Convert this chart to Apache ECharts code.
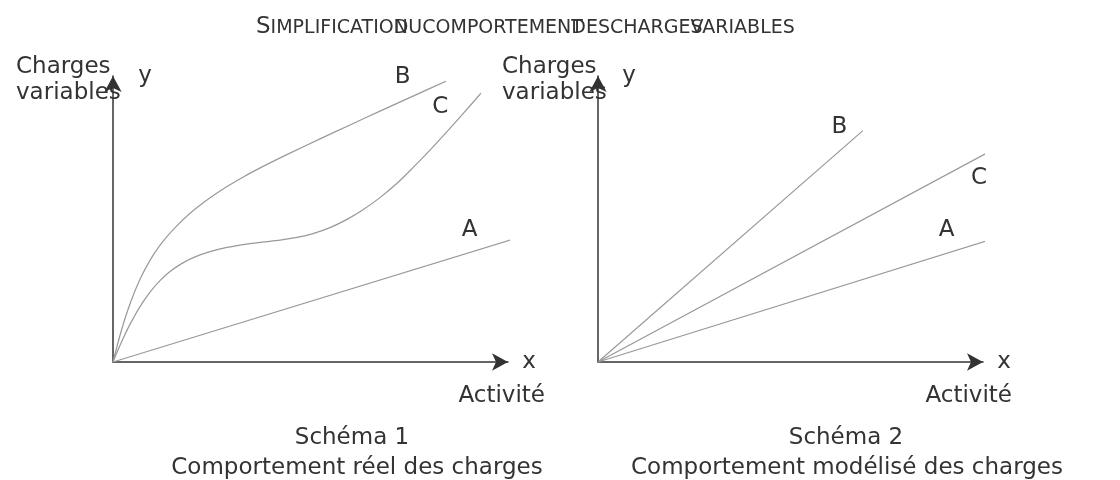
<!DOCTYPE html>
<html>
<head>
<meta charset="utf-8">
<script src="https://cdn.jsdelivr.net/npm/echarts@6/dist/echarts.min.js"></script>
<style>
  html, body { margin: 0; padding: 0; background: #fff; }
  #chart { width: 1120px; height: 480px; }
</style>
</head>
<body>
<div id="chart"></div>
<script>
// Schéma 1 : comportement réel (x = activité, y = charges variables)
const reelA = [[0, 0], [101.9, 43.2]]
const reelB = [[0, 0], [1.27, 6.82], [2.53, 12.94], [3.80, 18.36], [5.32, 24.02], [6.84, 28.95],
  [8.61, 33.71], [10.63, 38.32], [13.16, 43.04], [16.46, 48.04], [21.19, 53.92], [27.09, 59.79],
  [32.99, 64.69], [38.99, 69.09], [44.81, 73.04], [52.41, 78.01], [60.0, 82.88], [67.59, 87.71],
  [75.95, 92.97], [84.30, 98.16]]
const reelC = [[0, 0], [1.27, 4.20], [2.61, 8.36], [4.30, 13.15], [6.84, 19.37], [9.37, 24.44],
  [11.90, 28.46], [14.43, 31.61], [17.47, 34.48], [20.76, 36.75], [24.56, 38.58], [28.86, 40.07],
  [33.42, 41.15], [37.72, 41.92], [42.28, 42.62], [46.58, 43.57], [50.63, 44.90], [54.94, 46.99],
  [59.24, 49.86], [63.29, 53.22], [67.59, 57.48], [71.90, 62.48], [75.95, 67.97], [80.25, 74.09],
  [84.56, 80.52], [88.86, 87.17], [93.16, 94.0]]

// Schéma 2 : comportement modélisé
const modeleA = [[0, 0], [102.5, 43.0]]
const modeleB = [[0, 0], [68.8, 80.9]]
const modeleC = [[0, 0], [111.8, 80.9]]

const FONT = '"DejaVu Sans", sans-serif'
const TXT = '#333'

const axisCommon = {
  type: 'value',
  min: 0,
  max: 100,
  axisLabel: { show: false },
  axisTick: { show: false },
  splitLine: { show: false },
  axisLine: {
    show: true,
    symbol: ['none', 'arrow'],
    symbolSize: [13, 16],
    lineStyle: { color: '#333', width: 1.5 }
  }
}

function courbe(data, gridIdx, smooth) {
  return {
    type: 'line',
    xAxisIndex: gridIdx,
    yAxisIndex: gridIdx,
    data: data,
    symbol: 'none',
    smooth: smooth ? 0.3 : false,
    clip: false,
    lineStyle: { color: '#999', width: 1.2 },
    silent: true
  }
}

function texte(str, x, y, size, align) {
  return {
    type: 'text',
    x: x,
    y: y,
    style: {
      text: str,
      font: size + 'px ' + FONT,
      fill: TXT,
      align: align || 'left',
      verticalAlign: 'middle'
    }
  }
}

// titre en petites capitales, les mots se chevauchent comme dans l'original
const ctx = document.createElement('canvas').getContext('2d')
function largeur(str, size) {
  ctx.font = size + 'px ' + FONT
  return ctx.measureText(str).width
}
const titre = []
let tx = 256
const ty = 28
titre.push(texte('S', tx, ty - 1, 23))
tx += largeur('S', 23)
titre.push(texte('IMPLIFICATION', tx, ty, 19))
tx += largeur('IMPLIFICATIO', 19)
titre.push(texte('DU', tx, ty, 19))
tx += largeur('DU', 19)
titre.push(texte('COMPORTEMENT', tx, ty, 19))
tx += largeur('COMPORTEMEN', 19)
titre.push(texte('DES', tx, ty, 19))
tx += largeur('DES', 19)
titre.push(texte('CHARGES', tx, ty, 19))
tx += largeur('CHARGE', 19)
titre.push(texte('VARIABLES', tx, ty, 19))

const option = {
  animation: false,
  backgroundColor: '#fff',
  grid: [
    { left: 113, top: 76, width: 395, height: 286, outerBoundsMode: 'none' },
    { left: 598, top: 76, width: 385, height: 286, outerBoundsMode: 'none' }
  ],
  xAxis: [
    Object.assign({ gridIndex: 0 }, axisCommon),
    Object.assign({ gridIndex: 1 }, axisCommon)
  ],
  yAxis: [
    Object.assign({ gridIndex: 0 }, axisCommon),
    Object.assign({ gridIndex: 1 }, axisCommon)
  ],
  series: [
    courbe(reelA, 0, false),
    courbe(reelB, 0, true),
    courbe(reelC, 0, true),
    courbe(modeleA, 1, false),
    courbe(modeleB, 1, false),
    courbe(modeleC, 1, false)
  ],
  graphic: titre.concat([
    // schéma 1
    texte('Charges', 16, 67, 23),
    texte('variables', 16, 93, 23),
    texte('y', 145, 76, 23, 'center'),
    texte('x', 529, 362, 23, 'center'),
    texte('Activité', 545, 396, 23, 'right'),
    texte('B', 402.7, 77.5, 23, 'center'),
    texte('C', 440.2, 106.7, 23, 'center'),
    texte('A', 469.5, 230, 23, 'center'),
    texte('Schéma 1', 352, 438, 23, 'center'),
    texte('Comportement réel des charges', 357, 468, 23, 'center'),
    // schéma 2
    texte('Charges', 502, 67, 23),
    texte('variables', 502, 93, 23),
    texte('y', 629, 76, 23, 'center'),
    texte('x', 1004, 362, 23, 'center'),
    texte('Activité', 1012, 396, 23, 'right'),
    texte('B', 839.3, 126.7, 23, 'center'),
    texte('C', 979, 178.3, 23, 'center'),
    texte('A', 946.7, 230, 23, 'center'),
    texte('Schéma 2', 846, 438, 23, 'center'),
    texte('Comportement modélisé des charges', 847, 468, 23, 'center')
  ])
}

const myChart = echarts.init(document.getElementById('chart'), null, { renderer: 'canvas' })
myChart.setOption(option)
</script>
</body>
</html>
